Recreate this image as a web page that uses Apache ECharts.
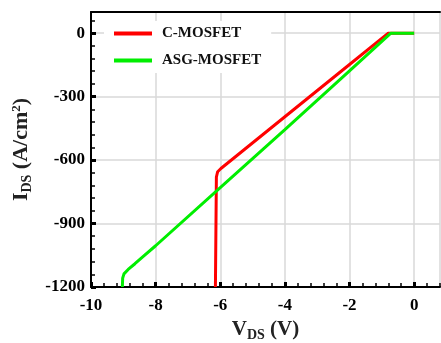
<!DOCTYPE html>
<html>
<head>
<meta charset="utf-8">
<script src="https://cdn.jsdelivr.net/npm/echarts@6/dist/echarts.min.js"></script>
<style>
  html, body { margin: 0; padding: 0; background: #fff; }
  #chart { width: 441px; height: 343px; }
</style>
</head>
<body>
<div id="chart"></div>
<script>
// C-MOSFET
const cVds = [0, -0.8, -2, -4, -5.98, -6.08, -6.12, -6.15];
const cIds = [0, 0, -148, -395, -640, -655, -680, -1200];
// ASG-MOSFET
const gVds = [0, -0.72, -2, -4, -6, -8, -8.4, -8.64, -8.85, -8.98, -9.02, -9.03];
const gIds = [0, 0, -178, -456, -730, -1005, -1058, -1090, -1117, -1138, -1158, -1200];

const xTicks = [-10, -8, -6, -4, -2, 0];
const yTicks = [-1200, -900, -600, -300, 0];

const font = 'Liberation Serif';
let chart = echarts.init(document.getElementById('chart'));

const pairs = (xs, ys) => xs.map((x, i) => [x, ys[i]]);

chart.setOption({
    animation: false,
    grid: { left: 91, top: 12, right: 1, bottom: 56, containLabel: false, outerBoundsMode: 'none' },
    legend: {
        orient: 'vertical',
        left: 104,
        top: 21,
        padding: [5, 10, 5, 10],
        backgroundColor: '#fff',
        itemWidth: 38,
        itemHeight: 4,
        itemGap: 12,
        icon: 'rect',
        textStyle: { fontFamily: font, fontWeight: 'bold', fontSize: 15, color: '#111', padding: [0, 0, 0, 5] },
        data: ['C-MOSFET', 'ASG-MOSFET']
    },
    xAxis: [
        {
            type: 'value', position: 'bottom', min: -10, max: 0.8, interval: 2,
            axisLine: { onZero: false, lineStyle: { color: '#000', width: 2 } },
            axisTick: { inside: true, length: 5, lineStyle: { color: '#000', width: 3 } },
            splitLine: { show: true, lineStyle: { color: '#d8d8d8', width: 1.5 } },
            axisLabel: {
                showMaxLabel: false, margin: 10, color: '#000',
                fontFamily: font, fontWeight: 'bold', fontSize: 17,
                formatter: v => xTicks.indexOf(v) >= 0 ? String(v) : ''
            },
            name: 'V{sub|DS} (V)',
            nameLocation: 'middle',
            nameGap: 26,
            nameTextStyle: {
                fontFamily: font, fontWeight: 'bold', fontSize: 21, color: '#222',
                rich: { sub: { fontFamily: font, fontWeight: 'bold', fontSize: 14, color: '#222', padding: [12, 0, 0, 0] } }
            }
        },
        {
            type: 'value', position: 'bottom', min: -10, max: 0.8, interval: 0.4,
            axisLine: { show: false, onZero: false },
            axisTick: { inside: true, length: 4, lineStyle: { color: '#000', width: 1.5 } },
            splitLine: { show: false },
            axisLabel: { show: false }
        },
        {
            type: 'value', position: 'top', min: -10, max: 0.8,
            axisLine: { show: true, onZero: false, lineStyle: { color: '#000', width: 2 } },
            axisTick: { show: false },
            splitLine: { show: false },
            axisLabel: { show: false }
        }
    ],
    yAxis: [
        {
            type: 'value', position: 'left', min: -1200, max: 100, interval: 300,
            axisLine: { show: true, onZero: false, lineStyle: { color: '#000', width: 2 } },
            axisTick: { show: true, inside: true, length: 5, lineStyle: { color: '#000', width: 3 } },
            splitLine: { show: true, lineStyle: { color: '#d8d8d8', width: 1.5 } },
            axisLabel: {
                showMaxLabel: false, margin: 6, color: '#000',
                fontFamily: font, fontWeight: 'bold', fontSize: 17,
                formatter: v => yTicks.indexOf(v) >= 0 ? String(v) : ''
            },
            name: 'I{sub|DS} (A/cm{sup|2})',
            nameLocation: 'middle',
            nameGap: 52,
            nameTextStyle: {
                fontFamily: font, fontWeight: 'bold', fontSize: 22, color: '#222',
                rich: {
                    sub: { fontFamily: font, fontWeight: 'bold', fontSize: 14, color: '#222', padding: [12, 0, 0, 0] },
                    sup: { fontFamily: font, fontWeight: 'bold', fontSize: 13, color: '#222', padding: [0, 0, 10, 0] }
                }
            }
        },
        {
            type: 'value', position: 'left', min: -1200, max: 100, interval: 60,
            axisLine: { show: false, onZero: false },
            axisTick: { show: true, inside: true, length: 4, lineStyle: { color: '#000', width: 1.5 } },
            splitLine: { show: false },
            axisLabel: { show: false }
        }
    ],
    series: [
        {
            name: 'C-MOSFET', type: 'line', xAxisIndex: 0, yAxisIndex: 0,
            showSymbol: false, smooth: false,
            lineStyle: { color: '#ff0000', width: 3 },
            itemStyle: { color: '#ff0000' },
            data: pairs(cVds, cIds)
        },
        {
            name: 'ASG-MOSFET', type: 'line', xAxisIndex: 0, yAxisIndex: 0,
            showSymbol: false, smooth: false,
            lineStyle: { color: '#00ee00', width: 3 },
            itemStyle: { color: '#00ee00' },
            data: pairs(gVds, gIds)
        }
    ]
});
</script>
</body>
</html>
